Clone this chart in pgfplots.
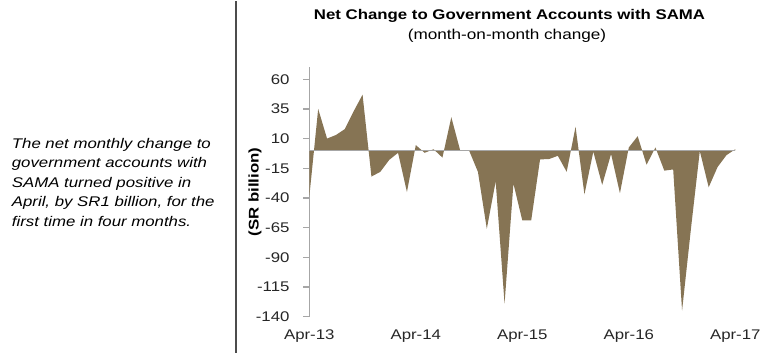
\documentclass[border=0pt]{standalone}
\usepackage{pgfplots}
\pgfplotsset{compat=1.18}
\usepackage{fontspec}
\setmainfont[FakeStretch=1.2]{Liberation Sans}
\definecolor{fillc}{RGB}{134,116,84}
\definecolor{axgray}{RGB}{166,166,166}
\pgfplotstableread{
i v
0 -39
1 35
2 10
3 13
4 18
5 33
6 47
7 -22
8 -18
9 -8
10 -2
11 -35
12 4.5
13 -2
14 1
15 -6
16 28
17 0
18 0
19 -18
20 -66
21 -26
22 -129
23 -28
24 -59
25 -59
26 -7.5
27 -7.3
28 -4.5
29 -18
30 20
31 -37
32 -1
33 -29
34 -3
35 -36
36 2.5
37 12
38 -12
39 2.5
40 -17
41 -16
42 -135
43 -66
44 -0.5
45 -31
46 -14
47 -4
48 1
}\datatable
\begin{document}
\fontsize{14bp}{19.5bp}\selectfont
\begin{tikzpicture}[x=1bp,y=1bp]
\path (0,0) rectangle (768,352);
\draw[black!70, line width=1.3bp] (236,0) -- (236,352);
\node[anchor=north west, align=left, inner sep=0,
      font={\fontsize{14bp}{19.5bp}\selectfont\itshape}] at (11.7,214.5)
  {The net monthly change to\\government accounts with\\SAMA turned positive in\\April, by SR1 billion, for the\\first time in four months.};
\node[anchor=base, inner sep=0, font={\fontsize{14bp}{17bp}\selectfont\bfseries}] at (509.5,333) {Net Change to Government Accounts with SAMA};
\node[anchor=base, inner sep=0, font={\fontsize{14.3bp}{17bp}\selectfont}] at (507,313) {(month-on-month change)};
\node[rotate=90, inner sep=0, font={\fontsize{14bp}{17bp}\selectfont\bfseries}] at (255,160.5) {(SR billion)};
\begin{axis}[
  at={(309.3bp,36bp)}, anchor=south west, scale only axis,
  width=426bp, height=249.3bp,
  xmin=0, xmax=48, ymin=-140, ymax=70,
  axis x line=bottom, axis y line=left,
  axis line style={-, axgray, line width=1.3bp},
  x axis line style={draw=none},
  xtick={0,12,24,36,48},
  xticklabels={Apr-13,Apr-14,Apr-15,Apr-16,Apr-17},
  x tick style={draw=none},
  ytick={-140,-115,...,60},
  y tick style={axgray, line width=1.3bp},
  tick align=outside, major tick length=6bp,
  /pgf/number format/assume math mode=true,
  ticklabel style={font=\fontsize{14bp}{16bp}\selectfont, text=black!85},
  yticklabel style={xshift=-9bp},
  xticklabel style={yshift=-2bp},
  clip=false,
]
\addplot[fill=fillc, draw=none] table[x=i, y=v] {\datatable} \closedcycle;
\addplot[axgray, line width=1.3bp] coordinates {(0,0) (48,0)};
\end{axis}
\end{tikzpicture}
\end{document}
